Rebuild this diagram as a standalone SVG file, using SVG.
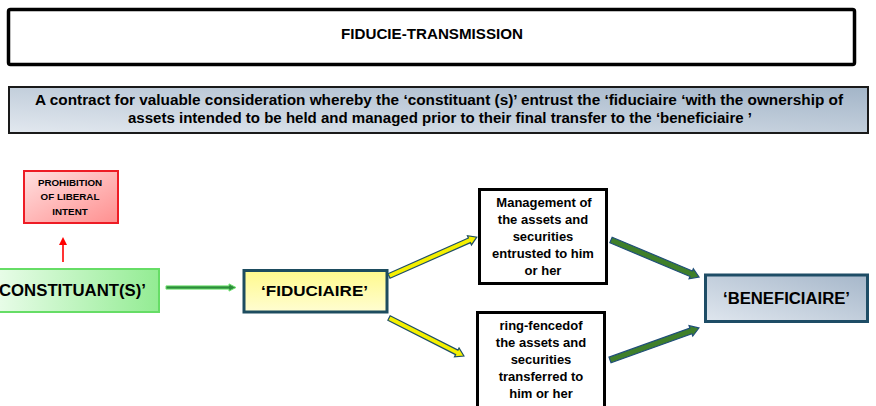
<svg xmlns="http://www.w3.org/2000/svg" width="876" height="406" viewBox="0 0 876 406">
  <defs>
    <linearGradient id="gSub" x1="0" y1="1" x2="1" y2="0">
      <stop offset="0" stop-color="#e2e8ef"/>
      <stop offset="1" stop-color="#a3b5c8"/>
    </linearGradient>
    <linearGradient id="gRed" x1="0" y1="0" x2="1" y2="1">
      <stop offset="0" stop-color="#ffe0e0"/>
      <stop offset="1" stop-color="#ff8f8f"/>
    </linearGradient>
    <linearGradient id="gGreen" x1="0" y1="0" x2="1" y2="0">
      <stop offset="0" stop-color="#ecfdec"/>
      <stop offset="1" stop-color="#93ec93"/>
    </linearGradient>
    <linearGradient id="gYellow" x1="0" y1="0" x2="0" y2="1">
      <stop offset="0" stop-color="#fffa8c"/>
      <stop offset="1" stop-color="#fffdd2"/>
    </linearGradient>
    <linearGradient id="gBlue" x1="0" y1="1" x2="1" y2="0">
      <stop offset="0" stop-color="#dfe6ee"/>
      <stop offset="1" stop-color="#a6b7ca"/>
    </linearGradient>
    <marker id="redHead" viewBox="0 0 10 10" refX="5" refY="5" markerWidth="5" markerHeight="5" orient="auto">
      <path d="M0,0 L10,5 L0,10 Z" fill="#ff0000"/>
    </marker>
  </defs>
  <style>
    .t { font-family: "Liberation Sans", Arial, sans-serif; font-weight: bold; fill: #000; text-anchor: middle; }
    .box { fill: #fff; stroke: #000; stroke-width: 3; }
    .yel { fill: #f5f000; stroke: #1f4e66; stroke-width: 1.2; stroke-linejoin: miter; }
    .grn { fill: #3f7f2a; stroke: #1f4e79; stroke-width: 1.2; stroke-linejoin: miter; }
  </style>

  <rect width="876" height="406" fill="#fff"/>

  <!-- title banner -->
  <g id="title">
    <rect x="8.5" y="9.5" width="846" height="55" rx="2" fill="#fff" stroke="#000" stroke-width="3.5"/>
    <text class="t" x="432" y="38.5" font-size="15" textLength="182" lengthAdjust="spacingAndGlyphs">FIDUCIE-TRANSMISSION</text>
  </g>

  <!-- definition banner -->
  <g id="definition">
    <rect x="9" y="87" width="859" height="46" fill="url(#gSub)" stroke="#1a1a1a" stroke-width="2"/>
    <text class="t" x="439" y="104.5" font-size="14.5" textLength="808" lengthAdjust="spacingAndGlyphs">A contract for valuable consideration whereby the ‘constituant (s)’ entrust the ‘fiduciaire ‘with the ownership of</text>
    <text class="t" x="440" y="122.5" font-size="14.5" textLength="624" lengthAdjust="spacingAndGlyphs">assets intended to be held and managed prior to their final transfer to the ‘beneficiaire ’</text>
  </g>

  <!-- nodes -->
  <g id="prohibition">
    <rect x="24" y="171" width="94" height="52" fill="url(#gRed)" stroke="#ee1c25" stroke-width="2"/>
    <text class="t" x="70" y="185.5" font-size="9.8">PROHIBITION</text>
    <text class="t" x="70" y="200" font-size="9.8">OF LIBERAL</text>
    <text class="t" x="70" y="214.5" font-size="9.8">INTENT</text>
  </g>

  <g id="constituant">
    <rect x="-10" y="269" width="169" height="43" fill="url(#gGreen)" stroke="#66dd66" stroke-width="2"/>
    <text class="t" x="-1" y="296" font-size="16" style="text-anchor:start" textLength="147" lengthAdjust="spacingAndGlyphs">CONSTITUANT(S)’</text>
  </g>

  <g id="fiduciaire">
    <rect x="244" y="270.5" width="143" height="41.5" fill="url(#gYellow)" stroke="#1d4c5f" stroke-width="3"/>
    <text class="t" x="314.5" y="296" font-size="15.5" textLength="107" lengthAdjust="spacingAndGlyphs">‘FIDUCIAIRE’</text>
  </g>

  <g id="management">
    <rect class="box" x="479.5" y="189.5" width="127" height="94"/>
    <text class="t" x="544" y="206.5" font-size="13">Management of</text>
    <text class="t" x="543" y="223.5" font-size="13">the assets and</text>
    <text class="t" x="543" y="240.5" font-size="13">securities</text>
    <text class="t" x="543" y="257.5" font-size="13">entrusted to him</text>
    <text class="t" x="543" y="274.5" font-size="13">or her</text>
  </g>

  <g id="ringfenced">
    <rect class="box" x="477.5" y="312.5" width="127" height="100"/>
    <text class="t" x="541" y="329.5" font-size="13">ring-fencedof</text>
    <text class="t" x="541" y="346.5" font-size="13">the assets and</text>
    <text class="t" x="541" y="363.5" font-size="13">securities</text>
    <text class="t" x="541" y="380.5" font-size="13">transferred to</text>
    <text class="t" x="541" y="397.5" font-size="13">him or her</text>
  </g>

  <g id="beneficiaire">
    <rect x="705.5" y="275" width="162" height="46.5" fill="url(#gBlue)" stroke="#1e4d66" stroke-width="3"/>
    <text class="t" x="786.5" y="303.5" font-size="16" textLength="127" lengthAdjust="spacingAndGlyphs">‘BENEFICIAIRE’</text>
  </g>

  <!-- connectors -->
  <g id="connectors">
    <!-- constituant to prohibition -->
    <line x1="63" y1="262" x2="63" y2="241" stroke="#ff0000" stroke-width="1.6" marker-end="url(#redHead)"/>
    <!-- constituant to fiduciaire -->
    <path transform="translate(166,287.5)" d="M0,-1.6 H63 V-3.6 L70,0 L63,3.6 V1.6 H0 Z" fill="#2d8c3c" stroke="#6be06b" stroke-width="1"/>
    <!-- fiduciaire to management -->
    <path class="yel" transform="translate(389,276) rotate(-23.9)" d="M0,-2.5 H88 V-5 L96,0 L88,5 V2.5 H0 Z"/>
    <!-- fiduciaire to ring-fenced assets -->
    <path class="yel" transform="translate(389,318) rotate(26.9)" d="M0,-2.5 H76 V-5 L84,0 L76,5 V2.5 H0 Z"/>
    <!-- management to beneficiaire -->
    <path class="grn" transform="translate(611,240) rotate(22.8)" d="M0,-3 H87 V-5.5 L95.5,0 L87,5.5 V3 H0 Z"/>
    <!-- ring-fenced assets to beneficiaire -->
    <path class="grn" transform="translate(610,360) rotate(-19.8)" d="M0,-3 H86 V-5.5 L94.5,0 L86,5.5 V3 H0 Z"/>
  </g>
</svg>
